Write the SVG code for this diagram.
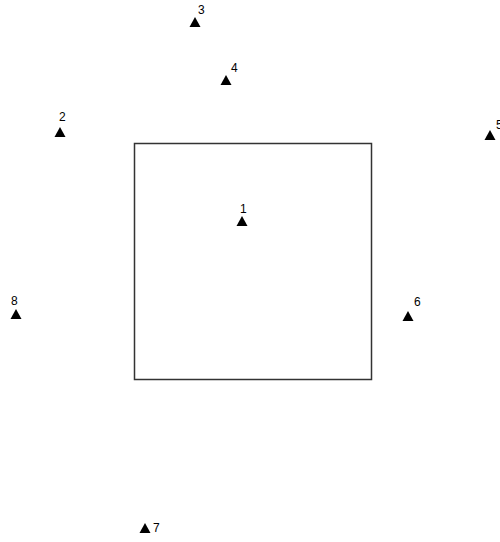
<svg xmlns="http://www.w3.org/2000/svg" width="500" height="542" viewBox="0 0 500 542">
<style>
.lbl{font-family:"Liberation Sans",Arial,sans-serif;font-size:12px;fill:#000;}
.tri{fill:#000;}
</style>
<defs>
<path id="t" d="M-5.5,5 L5.5,5 L0,-5 Z"/>
</defs>
<rect width="500" height="542" fill="#fff"/>
<g id="box"><rect x="134.5" y="143.5" width="237" height="236" fill="none" stroke="#333" stroke-width="1.5"/></g>
<g id="connectors"></g>
<g id="n1"><use href="#t" class="tri" x="242" y="221"/><text class="lbl" x="240" y="213">1</text></g>
<g id="n2"><use href="#t" class="tri" x="60" y="132"/><text class="lbl" x="59" y="121">2</text></g>
<g id="n3"><use href="#t" class="tri" x="195" y="22"/><text class="lbl" x="198" y="14">3</text></g>
<g id="n4"><use href="#t" class="tri" x="226" y="80"/><text class="lbl" x="231" y="72">4</text></g>
<g id="n5"><use href="#t" class="tri" x="490" y="135"/><text class="lbl" x="496" y="129">5</text></g>
<g id="n6"><use href="#t" class="tri" x="408" y="316"/><text class="lbl" x="414" y="306">6</text></g>
<g id="n7"><use href="#t" class="tri" x="145" y="528"/><text class="lbl" x="153" y="532">7</text></g>
<g id="n8"><use href="#t" class="tri" x="16" y="314"/><text class="lbl" x="11" y="305">8</text></g>
</svg>
